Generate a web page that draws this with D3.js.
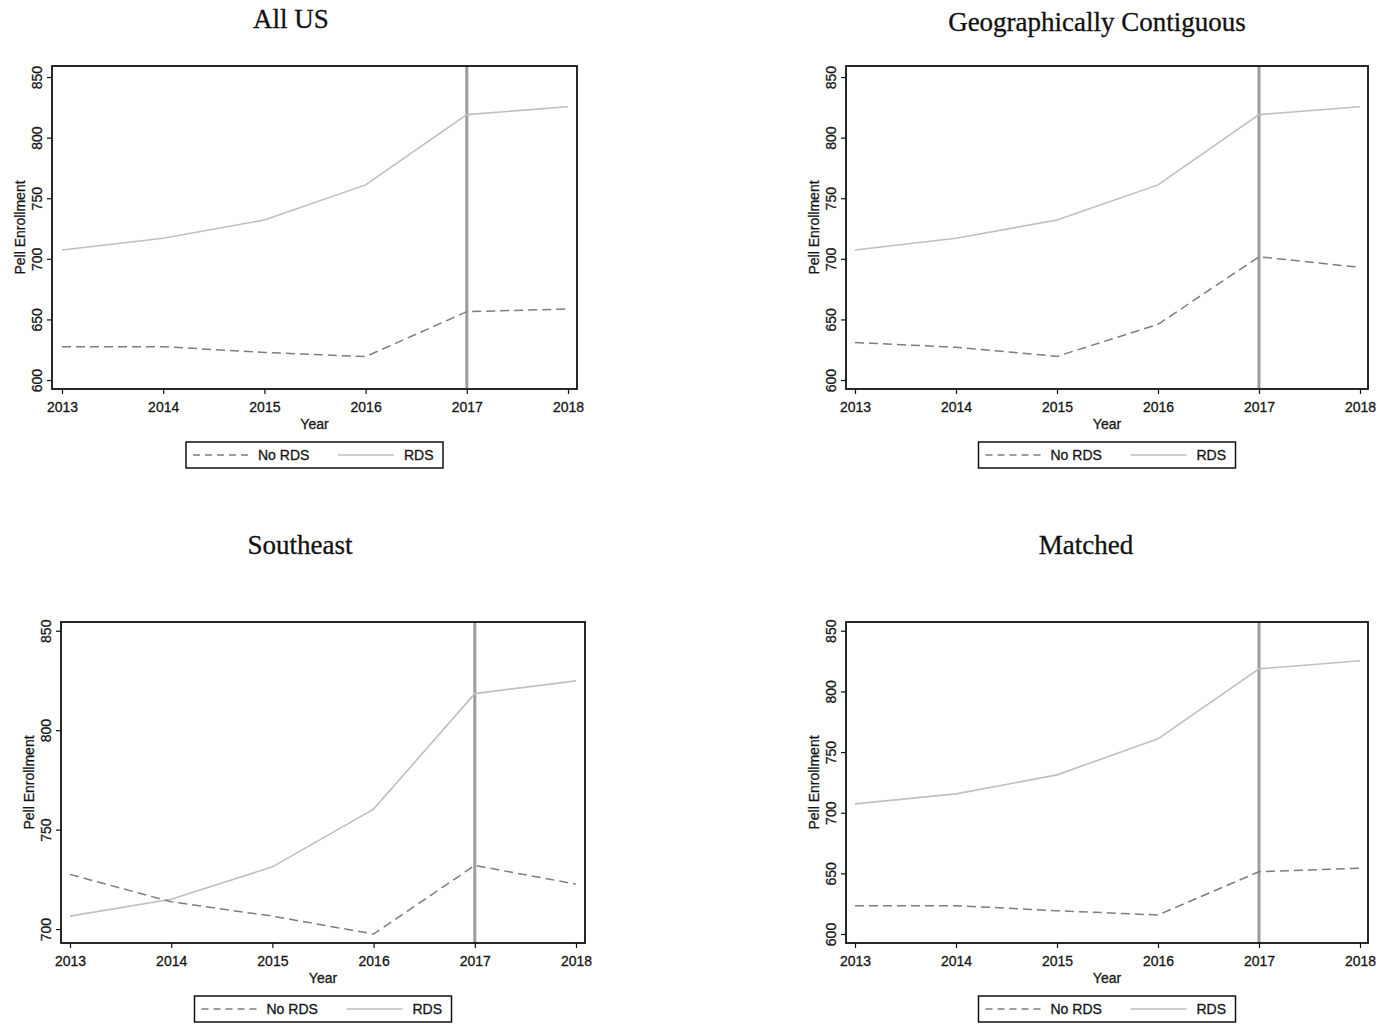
<!DOCTYPE html>
<html>
<head>
<meta charset="utf-8">
<script src="https://cdn.jsdelivr.net/npm/d3@7"></script>
<style>
  html, body { margin: 0; padding: 0; background: #fff; }
  svg { display: block; }
  .tick text, .lbl { font-family: "Liberation Sans", Arial, Helvetica, sans-serif; stroke: #222; stroke-width: 0.3px; }
  .ptitle { font-family: "Liberation Serif", "Times New Roman", serif; stroke: #111; stroke-width: 0.3px; }
</style>
</head>
<body>
<svg id="chart" width="1382" height="1024"></svg>
<script>
// Pell enrollment by year, RDS vs. no-RDS institutions, four comparison samples
const years = [2013, 2014, 2015, 2016, 2017, 2018];
const seriesNames = ["No RDS", "RDS"];
const panelTitles = ["All US", "Geographically Contiguous", "Southeast", "Matched"];
const treatmentYear = 2017;

const allUsNoRds   = [627.5, 627.5, 622.8, 619.3, 656.4, 658.6];
const allUsRds     = [707.3, 717.0, 732.0, 761.0, 819.0, 825.5];
const contigNoRds  = [631.0, 627.0, 619.5, 646.0, 701.7, 693.0];
const contigRds    = [707.3, 717.0, 732.0, 761.0, 819.0, 825.5];
const southeastNoRds = [727.5, 713.7, 706.5, 697.5, 732.0, 722.6];
const southeastRds   = [706.5, 715.0, 731.3, 760.3, 818.4, 824.8];
const matchedNoRds = [623.4, 623.4, 619.2, 615.7, 651.4, 654.2];
const matchedRds   = [707.3, 715.5, 731.2, 760.9, 818.6, 825.2];

const yTicksFull = [600, 650, 700, 750, 800, 850];
const yTicksSoutheast = [700, 750, 800, 850];

const xLabel = "Year";
const yLabel = "Pell Enrollment";

// Panel geometry: plot box, first/last year positions, y range of the box
const panels = [
  { title: panelTitles[0], noRds: allUsNoRds, rds: allUsRds, ticks: yTicksFull,
    box: [52, 66, 577, 389], xr: [62, 568], yDom: [592.6, 859.1], titleX: 291, titleY: 28 },
  { title: panelTitles[1], noRds: contigNoRds, rds: contigRds, ticks: yTicksFull,
    box: [846, 66, 1368, 389], xr: [855, 1360], yDom: [592.6, 859.1], titleX: 1097, titleY: 31 },
  { title: panelTitles[2], noRds: southeastNoRds, rds: southeastRds, ticks: yTicksSoutheast,
    box: [61, 622, 585, 943], xr: [70, 576], yDom: [693.0, 854.4], titleX: 300, titleY: 554 },
  { title: panelTitles[3], noRds: matchedNoRds, rds: matchedRds, ticks: yTicksFull,
    box: [846, 622, 1368, 943], xr: [855, 1360], yDom: [592.6, 857.2], titleX: 1086, titleY: 554 }
];

const svg = d3.select("#chart");
const styles = {
  noRds: { stroke: "#7d7d7d", dash: "9,5", keyDash: "7,5", width: 1.5 },
  rds:   { stroke: "#bfbfbf", dash: null, keyDash: null, width: 1.6 }
};

panels.forEach(p => {
  const [x0, y0, x1, y1] = p.box;
  const g = svg.append("g");

  const x = d3.scaleLinear().domain([years[0], years[years.length - 1]]).range(p.xr);
  const y = d3.scaleLinear().domain(p.yDom).range([y1, y0]);

  // title
  g.append("text").attr("class", "ptitle")
    .attr("x", p.titleX).attr("y", p.titleY)
    .attr("text-anchor", "middle")
    .style("font-size", "27px").attr("fill", "#111")
    .text(p.title);

  // treatment-year reference line
  g.append("line")
    .attr("x1", x(treatmentYear)).attr("x2", x(treatmentYear))
    .attr("y1", y0).attr("y2", y1)
    .attr("stroke", "#9c9c9c").attr("stroke-width", 3);

  // series lines
  const line = d3.line().x((d, i) => x(years[i])).y(d => y(d));
  g.append("path").datum(p.rds)
    .attr("d", line).attr("fill", "none")
    .attr("stroke", styles.rds.stroke).attr("stroke-width", styles.rds.width);
  g.append("path").datum(p.noRds)
    .attr("d", line).attr("fill", "none")
    .attr("stroke", styles.noRds.stroke).attr("stroke-width", styles.noRds.width)
    .attr("stroke-dasharray", styles.noRds.dash);

  // x axis
  const xa = g.append("g").attr("transform", `translate(0,${y1})`)
    .call(d3.axisBottom(x).tickValues(years).tickFormat(d3.format("d")).tickSize(5).tickPadding(8));
  xa.select(".domain").remove();
  xa.selectAll(".tick line").attr("stroke", "#111").attr("stroke-width", 1.2);
  xa.selectAll(".tick text").style("font-size", "14px").attr("fill", "#111");

  // y axis with rotated tick labels
  const ya = g.append("g").attr("transform", `translate(${x0},0)`)
    .call(d3.axisLeft(y).tickValues(p.ticks).tickFormat(d3.format("d")).tickSize(5));
  ya.select(".domain").remove();
  ya.selectAll(".tick line").attr("stroke", "#111").attr("stroke-width", 1.2);
  ya.selectAll(".tick text")
    .attr("transform", "rotate(-90)")
    .attr("x", 0).attr("y", -10).attr("dy", 0)
    .attr("text-anchor", "middle")
    .style("font-size", "14px").attr("fill", "#111");

  // plot frame
  g.append("rect")
    .attr("x", x0).attr("y", y0).attr("width", x1 - x0).attr("height", y1 - y0)
    .attr("fill", "none").attr("stroke", "#111").attr("stroke-width", 1.8);

  // axis titles
  const cx = (x0 + x1) / 2, cy = (y0 + y1) / 2;
  g.append("text").attr("class", "lbl")
    .attr("x", cx).attr("y", y1 + 40).attr("text-anchor", "middle")
    .style("font-size", "14px").attr("fill", "#111").text(xLabel);
  g.append("text").attr("class", "lbl")
    .attr("transform", `translate(${x0 - 27},${cy}) rotate(-90)`)
    .attr("text-anchor", "middle")
    .style("font-size", "14px").attr("fill", "#111").text(yLabel);

  // legend
  const lw = 257, lh = 26;
  const lx = cx - lw / 2, ly = y1 + 53;
  const lg = g.append("g").attr("transform", `translate(${lx},${ly})`);
  lg.append("rect").attr("width", lw).attr("height", lh)
    .attr("fill", "#fff").attr("stroke", "#111").attr("stroke-width", 1.5);
  const keys = [
    { name: seriesNames[0], st: styles.noRds, kx: 7, tx: 72 },
    { name: seriesNames[1], st: styles.rds, kx: 152, tx: 218 }
  ];
  keys.forEach(k => {
    lg.append("line").attr("x1", k.kx).attr("x2", k.kx + 56)
      .attr("y1", lh / 2).attr("y2", lh / 2)
      .attr("stroke", k.st.stroke).attr("stroke-width", k.st.width)
      .attr("stroke-dasharray", k.st.keyDash);
    lg.append("text").attr("class", "lbl")
      .attr("x", k.tx).attr("y", lh / 2 + 5)
      .style("font-size", "14px").attr("fill", "#111").text(k.name);
  });
});
</script>
</body>
</html>
